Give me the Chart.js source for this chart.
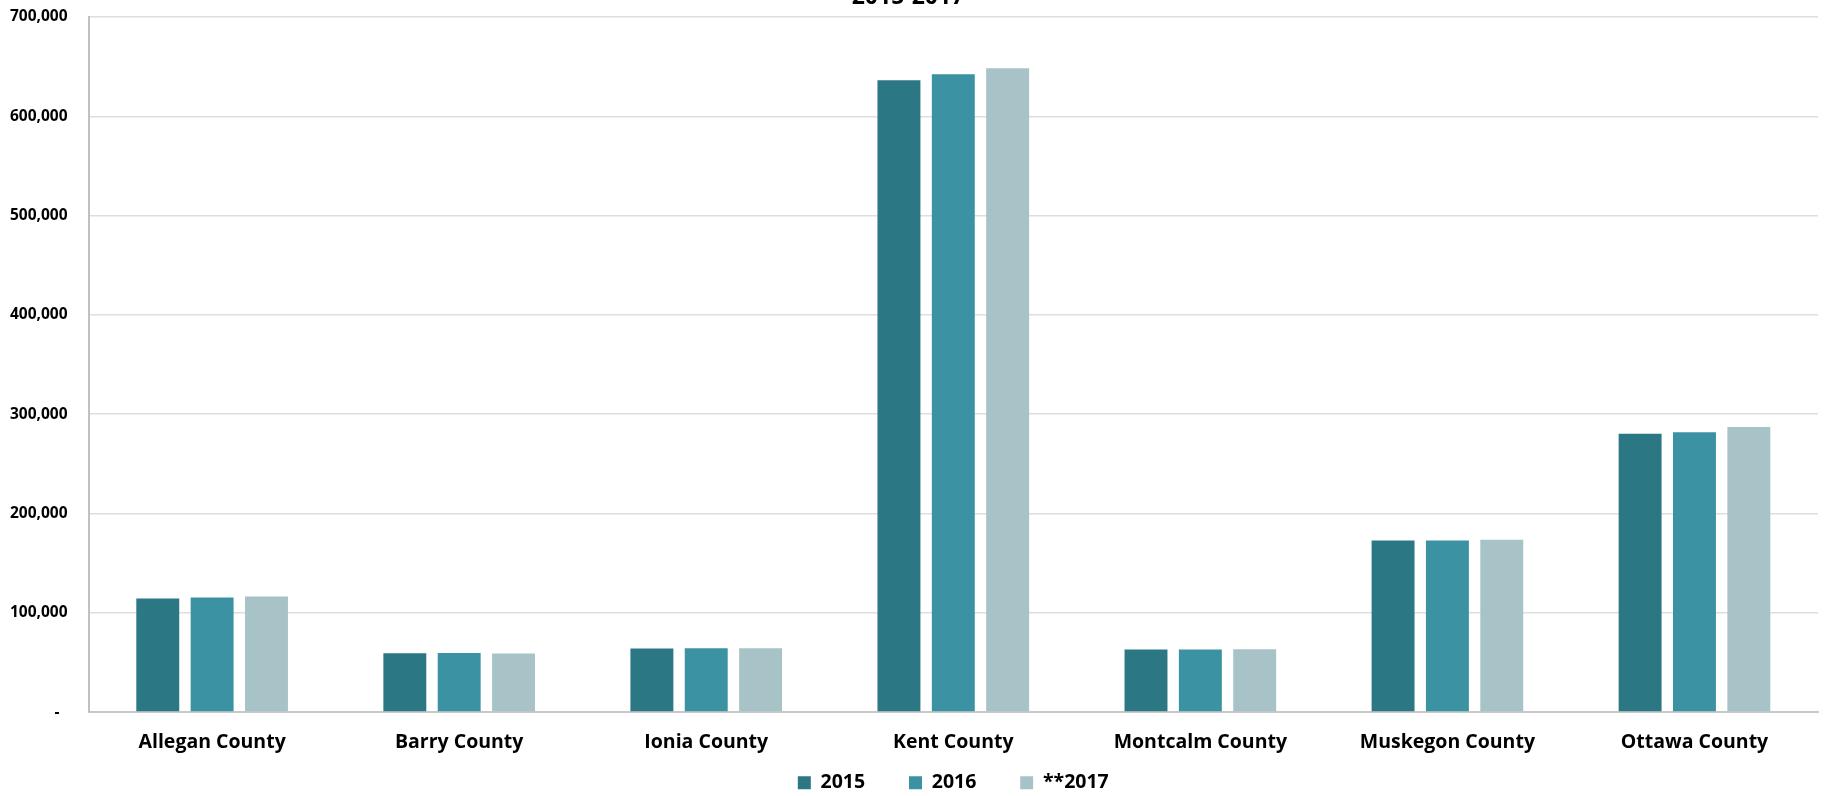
<!DOCTYPE html>
<html>
<head>
<meta charset="utf-8">
<script src="https://cdn.jsdelivr.net/npm/chart.js@4/dist/chart.umd.min.js"></script>
<style>
  html, body { margin: 0; padding: 0; background: #fff; }
  #wrap { width: 1826px; height: 796px; position: relative; }
</style>
</head>
<body>
<div id="wrap"><canvas id="pop"></canvas></div>
<script>
// counties and yearly population
const counties = ['Allegan County', 'Barry County', 'Ionia County', 'Kent County', 'Montcalm County', 'Muskegon County', 'Ottawa County'];
const pop2015 = [114400, 59300, 64100, 636300, 63100, 172800, 280200];
const pop2016 = [115400, 59500, 64300, 642400, 63100, 172900, 281900];
const pop2017 = [116400, 59100, 64200, 648400, 63200, 173600, 287200];
const seriesNames = ['2015', '2016', '**2017'];
const titleText = '2015-2017';

const font = "'Open Sans', sans-serif";

// title sits mostly above the top edge, like in the original
const topTitle = {
  id: 'topTitle',
  afterDraw: function (chart) {
    var ctx = chart.ctx;
    ctx.save();
    ctx.font = 'bold 23px ' + font;
    ctx.fillStyle = '#000';
    ctx.textAlign = 'center';
    ctx.textBaseline = 'alphabetic';
    ctx.fillText(titleText, chart.width / 2 - 5, 4);
    ctx.restore();
  }
};

var ctx = document.getElementById('pop').getContext('2d');
var popChart = new Chart(ctx, {
  type: 'bar',
  data: {
    labels: counties,
    datasets: [{
      label: seriesNames[0],
      backgroundColor: '#2C7784',
      data: pop2015
    }, {
      label: seriesNames[1],
      backgroundColor: '#3A92A2',
      data: pop2016
    }, {
      label: seriesNames[2],
      backgroundColor: '#A7C3C8',
      data: pop2017
    }]
  },
  options: {
    responsive: true,
    maintainAspectRatio: false,
    animation: false,
    categoryPercentage: 0.66,
    barPercentage: 0.79,
    layout: { padding: { left: -11, right: 8, top: 17, bottom: -6.5 } },
    plugins: {
      legend: {
        position: 'bottom',
        fullSize: false,
        labels: {
          boxWidth: 13,
          boxHeight: 13,
          padding: 18.5,
          color: '#000',
          font: { family: font, size: 19.5, weight: 'bold' },
          // extra spaces give the wide gaps between the legend entries
          generateLabels: function (chart) {
            var items = Chart.defaults.plugins.legend.labels.generateLabels(chart);
            items.forEach(function (it, i) {
              if (i < items.length - 1) it.text = it.text + '     ';
            });
            return items;
          }
        }
      },
      tooltip: { enabled: false }
    },
    scales: {
      x: {
        grid: { display: false, drawTicks: false },
        border: { color: '#c8c8c8', width: 2 },
        ticks: {
          padding: 19,
          color: '#000',
          maxRotation: 0,
          font: { family: font, size: 19.5, weight: 'bold' }
        },
        // padding only above the labels, not below
        afterFit: function (scale) {
          scale.height = 19 + 19.5 * 1.2;
        }
      },
      y: {
        min: 0,
        max: 700000,
        grid: { color: '#dedede', lineWidth: 1.5, drawTicks: false },
        border: { color: '#c0c0c0', width: 2 },
        ticks: {
          stepSize: 100000,
          padding: 21,
          color: '#000',
          font: { family: font, size: 15.5, weight: 'bold' },
          callback: function (v) {
            if (v === 0) return '-  ';
            return v.toLocaleString('en-US');
          }
        },
        afterFit: function (scale) {
          scale.paddingTop = 9;
          scale.paddingBottom = 9;
        }
      }
    }
  },
  plugins: [topTitle]
});
</script>
</body>
</html>
